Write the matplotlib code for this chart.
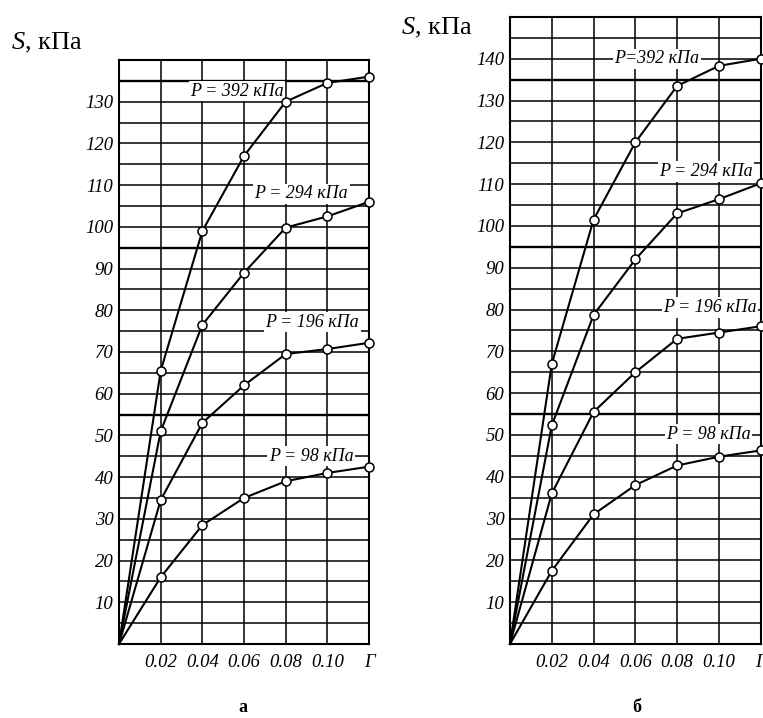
import matplotlib.pyplot as plt

plt.rcParams['font.family'] = ['Liberation Serif', 'DejaVu Serif']
plt.rcParams['mathtext.fontset'] = 'custom'
plt.rcParams['mathtext.it'] = 'Liberation Serif:italic'
plt.rcParams['mathtext.rm'] = 'Liberation Serif'

strain = [0, 0.02, 0.04, 0.06, 0.08, 0.10, 0.12]
x_tick_labels = ['0.02', '0.04', '0.06', '0.08', '0.10', 'Г']

# panel a
a_392 = [0, 65.5, 99, 117, 130, 134.5, 136]
a_294 = [0, 51, 76.5, 89, 99.8, 102.5, 106]
a_196 = [0, 34.5, 53, 62, 69.5, 70.7, 72.2]
a_98 = [0, 16, 28.5, 35, 39, 41, 42.5]

# panel b
b_392 = [0, 67, 101.5, 120, 133.5, 138.3, 140]
b_294 = [0, 52.3, 78.7, 92, 103, 106.4, 110.2]
b_196 = [0, 36, 55.5, 65, 73, 74.5, 76]
b_98 = [0, 17.5, 31, 38, 42.7, 44.8, 46.3]

a_labels = [('P = 392 кПа', 0.0566, 132.5), ('P = 294 кПа', 0.0874, 107.9),
            ('P = 196 кПа', 0.0928, 77.1), ('P = 98 кПа', 0.0923, 45)]
b_labels = [('P=392 кПа', 0.0703, 140), ('P = 294 кПа', 0.0938, 113),
            ('P = 196 кПа', 0.0957, 80.5), ('P = 98 кПа', 0.095, 50.2)]

fig = plt.figure(figsize=(7.63, 7.18), dpi=100)
ax1 = fig.add_axes([0.156, 0.1031, 0.3277, 0.8134])
ax2 = fig.add_axes([0.6684, 0.1031, 0.3286, 0.8733])


def draw_panel(ax, curves, labels, ytop):
    ax.set_xlim(0, 0.12)
    ax.set_ylim(0, ytop)
    ax.set_xticks(strain[1:])
    ax.set_xticklabels(x_tick_labels, fontstyle='italic', fontsize=13.5)
    yt = list(range(10, ytop, 10))
    ax.set_yticks(yt)
    ax.set_yticklabels([str(v) for v in yt], fontstyle='italic', fontsize=13.5)
    ax.set_yticks(list(range(5, ytop, 10)), minor=True)
    ax.tick_params(which='both', length=0)
    ax.tick_params(axis='y', pad=4)
    ax.tick_params(axis='x', pad=7)
    ax.grid(which='both', color='black', lw=1.1, zorder=1)
    for yy in [55, 95, 135]:
        ax.axhline(yy, color='black', lw=1.7, zorder=1)
    ax.set_axisbelow(True)
    for sp in ax.spines.values():
        sp.set_linewidth(1.5)
    for c in curves:
        ax.plot(strain, c, color='black', lw=1.5, marker='o', ms=6.5,
                mfc='white', mec='black', mew=1.1, markevery=list(range(1, len(strain))),
                zorder=4, clip_on=False)
    for txt, xx, yy in labels:
        ax.text(xx, yy, txt, fontsize=13, fontstyle='italic', ha='center', va='center',
                zorder=3, bbox=dict(facecolor='white', edgecolor='none', pad=1.2))


draw_panel(ax1, [a_392, a_294, a_196, a_98], a_labels, 140)
draw_panel(ax2, [b_392, b_294, b_196, b_98], b_labels, 150)

fig.text(11 / 763, 1 - 43 / 718, r'$S$, кПа', fontsize=19, va='center', ha='left')
fig.text(401 / 763, 1 - 28 / 718, r'$S$, кПа', fontsize=19, va='center', ha='left')
fig.text(243 / 763, 1 - 708 / 718, 'а', fontsize=13, fontweight='bold', ha='center', va='center')
fig.text(637 / 763, 1 - 708 / 718, 'б', fontsize=13, fontweight='bold', ha='center', va='center')

fig.savefig('out.png', dpi=100)
